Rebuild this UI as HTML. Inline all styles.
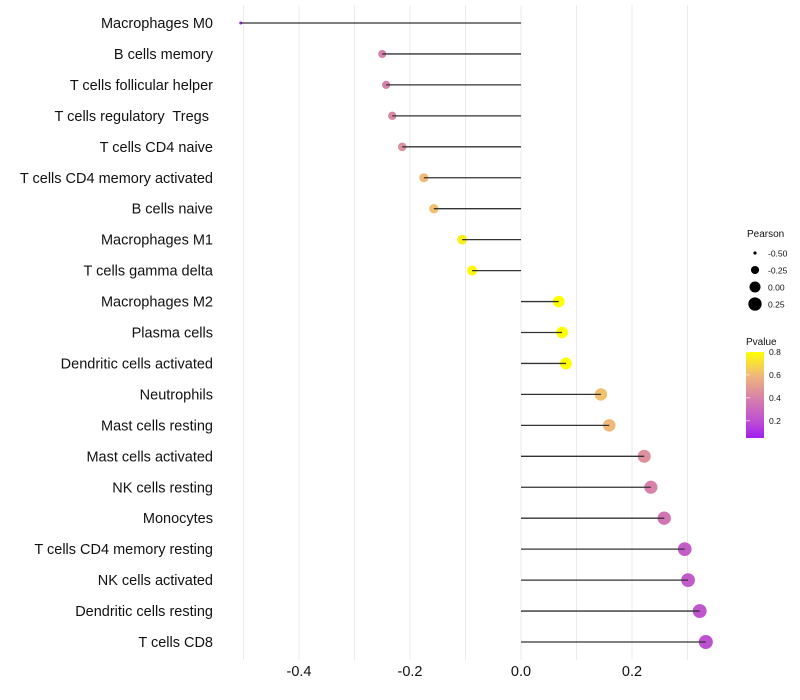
<!DOCTYPE html>
<html><head><meta charset="utf-8"><style>
body{margin:0;background:#fff;}
svg{display:block;font-family:"Liberation Sans",sans-serif;}
text{white-space:pre;}
</style></head><body>
<svg id="chart" width="800" height="700"></svg>
<script>
const categories=["Macrophages M0","B cells memory","T cells follicular helper","T cells regulatory  Tregs ","T cells CD4 naive","T cells CD4 memory activated","B cells naive","Macrophages M1","T cells gamma delta","Macrophages M2","Plasma cells","Dendritic cells activated","Neutrophils","Mast cells resting","Mast cells activated","NK cells resting","Monocytes","T cells CD4 memory resting","NK cells activated","Dendritic cells resting","T cells CD8"];
const pearson=[-0.505,-0.25,-0.243,-0.232,-0.214,-0.175,-0.157,-0.106,-0.088,0.068,0.074,0.081,0.144,0.159,0.222,0.234,0.258,0.295,0.301,0.322,0.333];
const pvalues=[0.02,0.4,0.4,0.42,0.45,0.6,0.62,0.75,0.78,0.82,0.82,0.8,0.62,0.6,0.45,0.4,0.35,0.25,0.24,0.22,0.2];
const xTicks=[-0.4,-0.2,0.0,0.2];
const xTickLabels=["-0.4","-0.2","0.0","0.2"];
const gridVals=[-0.5,-0.4,-0.3,-0.2,-0.1,0,0.1,0.2,0.3];
const sizeLegend=[-0.5,-0.25,0,0.25];
const sizeLegendLabels=["-0.50","-0.25","0.00","0.25"];
const colorTicks=[0.2,0.4,0.6,0.8];

const NS="http://www.w3.org/2000/svg";
const svg=document.getElementById('chart');
const xs=v=>521+v*555;
const ys=i=>23+i*30.95;
const rs=v=>Math.sqrt(2.25+Math.max(0,(v+0.505))/0.838*46.75);
const stops=[[0.05,[160,32,240]],[0.2,[190,80,210]],[0.4,[215,130,170]],[0.6,[240,185,120]],[0.8,[255,255,0]]];
function col(p){p=Math.max(0.05,Math.min(0.8,p));for(let k=0;k<stops.length-1;k++){const a=stops[k],b=stops[k+1];if(p<=b[0]){const t=(p-a[0])/(b[0]-a[0]);const c=a[1].map((x,j)=>Math.round(x+(b[1][j]-x)*t));return `rgb(${c})`;}}return 'rgb(255,255,0)';}
function el(tag,attrs,parent){const e=document.createElementNS(NS,tag);for(const k in attrs)e.setAttribute(k,attrs[k]);(parent||svg).appendChild(e);return e;}

gridVals.forEach(v=>{const g=el('line',{x1:xs(v),x2:xs(v),y1:5,y2:660,stroke:'#ebebeb','stroke-width':1});

});

xTicks.forEach((v,i)=>{const t=el('text',{x:xs(v),y:676,'text-anchor':'middle','font-size':14.5,fill:'#111'});t.textContent=xTickLabels[i];

});

categories.forEach((c,i)=>{
const t=el('text',{x:213,y:ys(i)+5,'text-anchor':'end','font-size':14.5,fill:'#111'});t.textContent=c;


const d=el('circle',{cx:xs(pearson[i]),cy:ys(i),r:rs(pearson[i]),fill:col(pvalues[i])});


const l=el('line',{x1:xs(0),x2:xs(pearson[i]),y1:ys(i),y2:ys(i),stroke:'#333','stroke-width':1.3});


});

const st=el('text',{x:747,y:237,'font-size':10,fill:'#111'});st.textContent='Pearson';


sizeLegend.forEach((v,i)=>{const y=253+i*17;
const c=el('circle',{cx:755,cy:y,r:rs(v),fill:'#000'});


const t=el('text',{x:768,y:y+3.5,'font-size':8.5,fill:'#111'});t.textContent=sizeLegendLabels[i];

});

const ct=el('text',{x:746,y:345,'font-size':10,fill:'#111'});ct.textContent='Pvalue';


const defs=el('defs',{});const gr=el('linearGradient',{id:'pg',x1:0,y1:1,x2:0,y2:0},defs);
stops.forEach(s=>el('stop',{offset:(s[0]-0.05)/0.75,'stop-color':`rgb(${s[1]})`},gr));
const cb=el('rect',{x:746,y:352,width:18,height:86,fill:'url(#pg)'});


const cy=p=>438-(p-0.05)/0.75*86;
colorTicks.forEach(p=>{const t=el('text',{x:769,y:cy(p)+3,'font-size':8.5,fill:'#111'});t.textContent=p.toFixed(1);


const tk=el('line',{x1:746,x2:750,y1:cy(p),y2:cy(p),stroke:'#fff','stroke-width':0.6});

});
</script>
</body></html>
